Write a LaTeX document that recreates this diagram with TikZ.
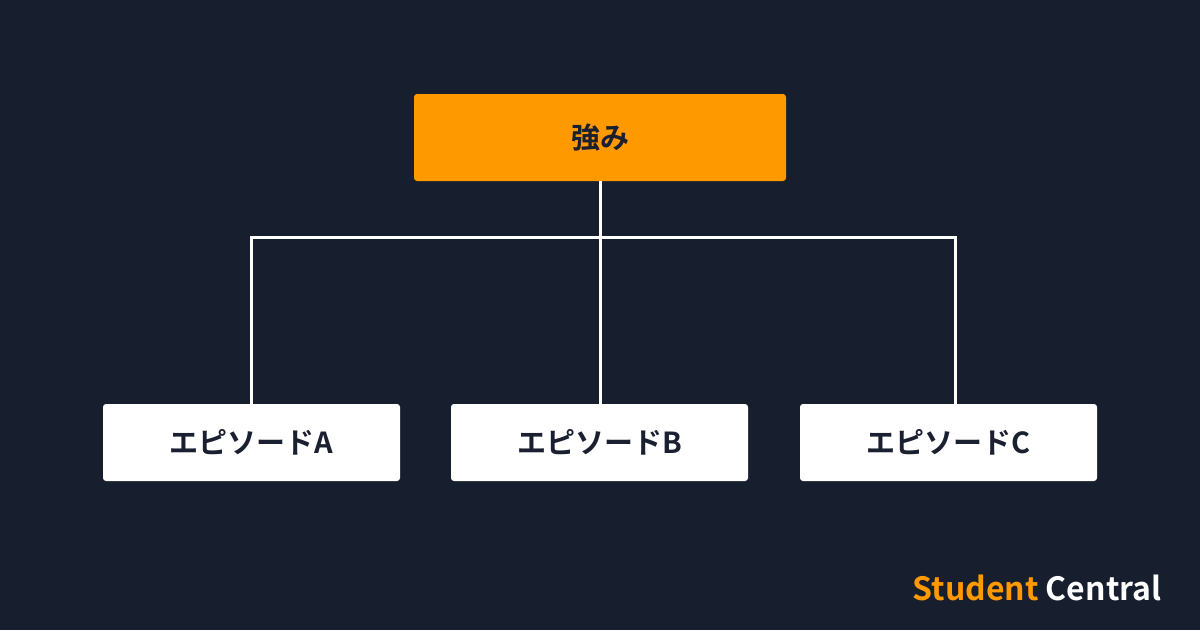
\documentclass[tikz,border=0pt]{standalone}
\usepackage{fontspec}
\setmainfont{Noto Sans CJK JP}[BoldFont={* Bold}]
\definecolor{navy}{HTML}{171E2E}
\definecolor{amber}{HTML}{FF9900}
\definecolor{ink}{HTML}{1A2030}
\tikzset{
  topbox/.style={fill=amber, rounded corners=3pt, minimum width=372pt, minimum height=87pt, inner sep=0pt},
  epbox/.style={fill=white, rounded corners=3pt, minimum width=297pt, minimum height=77pt, inner sep=0pt},
  label/.style={text=ink, font=\fontsize{29}{35}\selectfont\bfseries},
  wire/.style={white, line width=3pt}
}
\begin{document}
\begin{tikzpicture}[x=1pt,y=-1pt]
        % Background
        \fill[navy] (0,0) rectangle (1200,630);
        % Top box
        \node[topbox,label] (strength) at (600,137.5) {強み};
        % Episode boxes
        \node[epbox,label] (epA) at (251.5,442.5) {エピソードA};
        \node[epbox,label] (epB) at (599.5,442.5) {エピソードB};
        \node[epbox,label] (epC) at (948.5,442.5) {エピソードC};
        % Connectors
        \draw[wire] (strength.south) -- (epB.north -| strength.south);
        \draw[wire] (epA.north -| 251,0) -- (251,237.5) -- (955,237.5) -- (epC.north -| 955,0);
        % Footer
        \node[anchor=east, font=\fontsize{32}{36}\selectfont\bfseries] (brand) at (1165,588)
          {\textcolor{amber}{Student} \textcolor{white}{Central}};
    \end{tikzpicture}
\end{document}
